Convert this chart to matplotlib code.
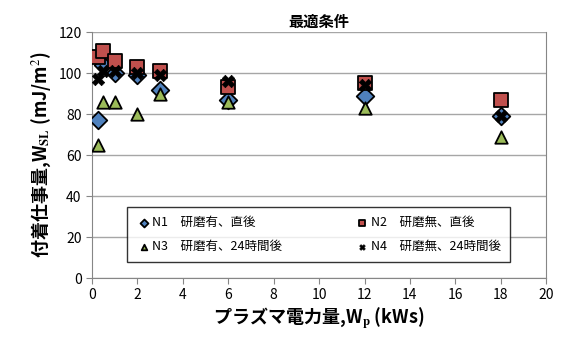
import matplotlib
matplotlib.use('Agg')
import matplotlib.pyplot as plt

plt.rcParams['font.family'] = ['Noto Sans CJK JP', 'DejaVu Sans']
plt.rcParams['mathtext.fontset'] = 'stix'

# Data
x_n1 = [0.25, 0.5, 1, 2, 3, 6, 12, 18]
y_n1 = [77, 104, 100, 99, 92, 87, 89, 79]
x_n2 = [0.25, 0.5, 1, 2, 3, 6, 12, 18]
y_n2 = [108, 111, 106, 103, 101, 93, 95, 87]
x_n3 = [0.25, 0.5, 1, 2, 3, 6, 12, 18]
y_n3 = [65, 86, 86, 80, 90, 86, 83, 69]
x_n4 = [0.25, 0.5, 1, 2, 3, 6, 12, 18]
y_n4 = [97, 101, 101, 100, 99, 96, 94, 79]

labels = ['N1\u3000研磨有、直後', 'N2\u3000研磨無、直後',
          'N3\u3000研磨有、24時間後', 'N4\u3000研磨無、24時間後']

fig = plt.figure(figsize=(5.66, 3.42), dpi=100)
ax = fig.add_axes([0.1625, 0.187, 0.8025, 0.719])

h1 = ax.scatter(x_n1, y_n1, marker='D', s=80, color='#4f81bd', edgecolors='black', linewidths=1.3, zorder=3)
h2 = ax.scatter(x_n2, y_n2, marker='s', s=90, color='#c0504d', edgecolors='black', linewidths=1.3, zorder=3)
h3 = ax.scatter(x_n3, y_n3, marker='^', s=80, color='#9bbb59', edgecolors='black', linewidths=1.3, zorder=3)
h4 = ax.scatter(x_n4, y_n4, marker='X', s=80, color='black', edgecolors='black', linewidths=0.5, zorder=4)

ax.set_xlim(0, 20)
ax.set_ylim(0, 120)
ax.set_xticks(range(0, 21, 2))
ax.set_yticks(range(0, 121, 20))
ax.yaxis.grid(True, color='#a6a6a6', linewidth=1, zorder=0)
for s in ax.spines.values():
    s.set_color('#868686')
ax.spines['top'].set_visible(False)
ax.tick_params(axis='both', labelsize=10, color='#868686', length=4)

ax.set_title('最適条件', fontsize=11, fontweight='bold', pad=4)
ax.set_xlabel('プラズマ電力量,W$_{\\mathbf{p}}$ (kWs)', fontsize=13, fontweight='bold', labelpad=2)
ax.set_ylabel('付着仕事量,W$_{\\mathbf{SL}}$ (mJ/m$^2$)', fontsize=13, fontweight='bold', labelpad=4)

# row-major order: N1 N2 / N3 N4
leg = ax.legend([h1, h3, h2, h4], [labels[0], labels[2], labels[1], labels[3]],
                loc='lower left', bbox_to_anchor=(0.064, 0.04, 0.87, 0.24), mode='expand',
                ncol=2, fontsize=9, frameon=True, fancybox=False, edgecolor='black',
                markerscale=0.45, handletextpad=0.1, borderpad=0.7, labelspacing=0.9,
                handlelength=1.2)
leg.get_frame().set_linewidth(1.0)

fig.savefig('out.png', dpi=100)
